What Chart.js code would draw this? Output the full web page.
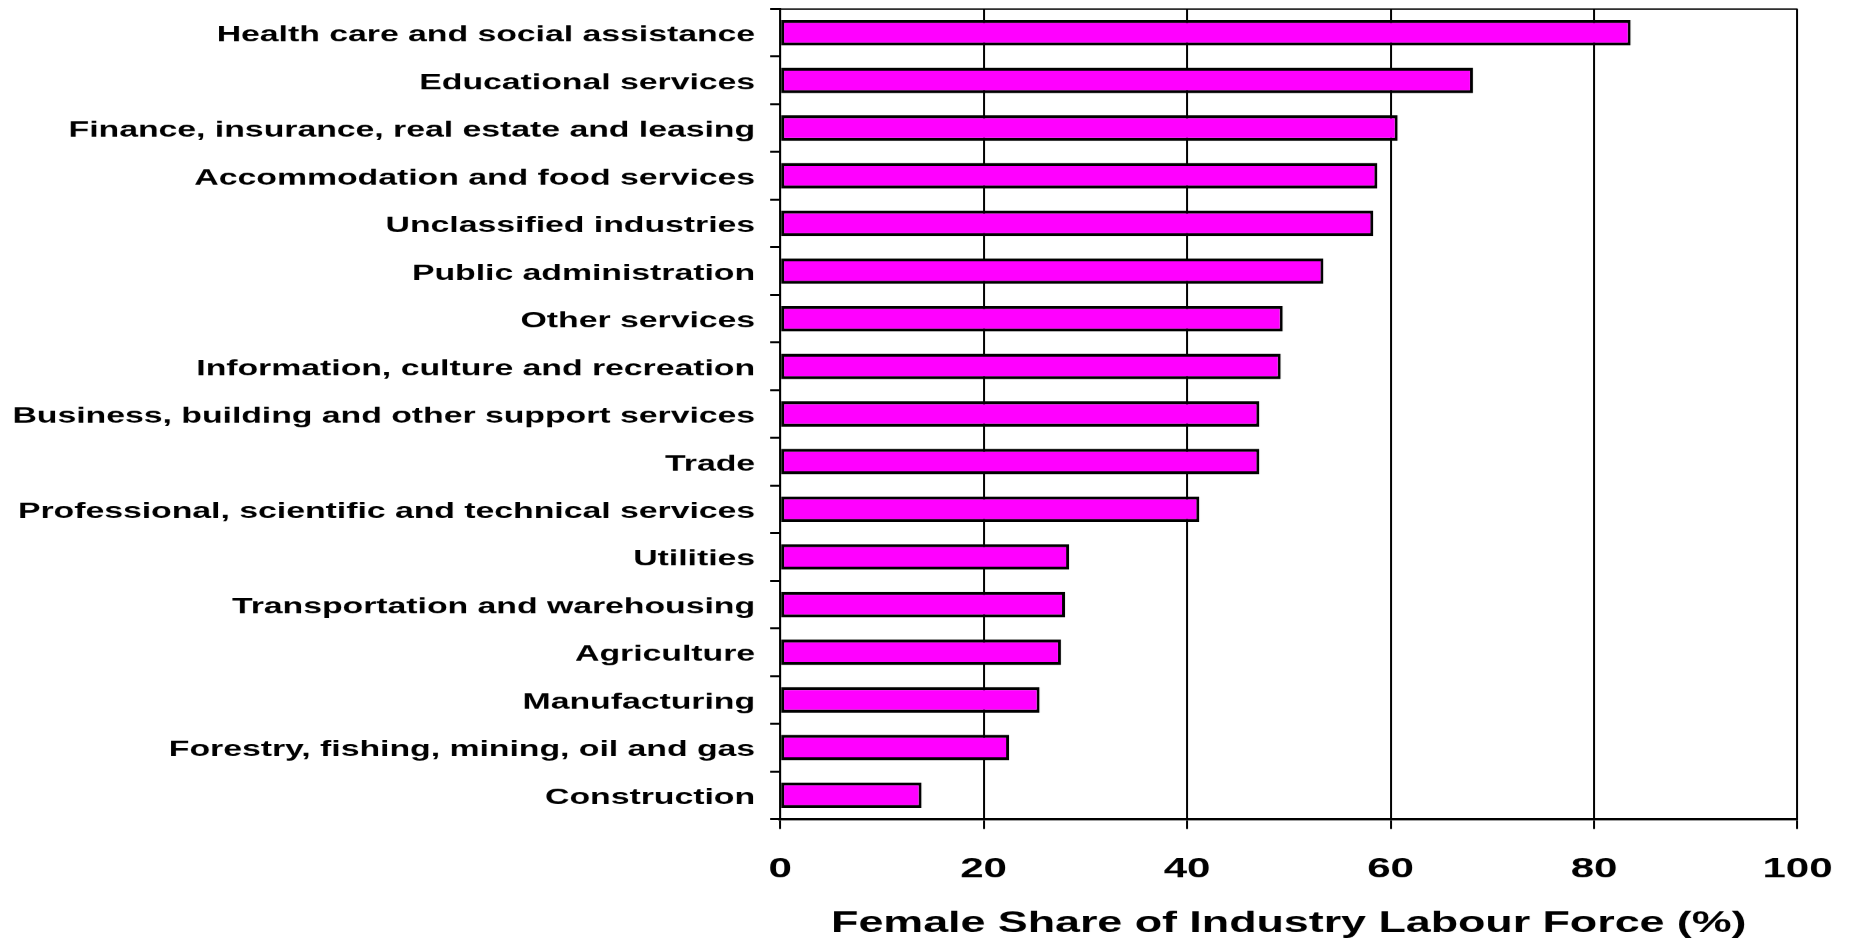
<!DOCTYPE html>
<html>
<head>
<meta charset="utf-8">
<title>Female Share of Industry Labour Force</title>
<script src="https://cdn.jsdelivr.net/npm/chart.js@4/dist/chart.umd.min.js"></script>
<style>
    html, body { margin: 0; padding: 0; background: #fff; overflow: hidden; }
    /* the source picture is stretched sideways, so the chart is drawn narrow and widened */
    #wrap { width: 1239px; height: 944px; transform: scaleX(1.4996); transform-origin: 0 0; }
</style>
</head>
<body>
<div id="wrap">
    <canvas id="sharesChart" width="1239" height="944"></canvas>
</div>
<script>
// Industries, top to bottom
const industries = [
    'Health care and social assistance',
    'Educational services',
    'Finance, insurance, real estate and leasing',
    'Accommodation and food services',
    'Unclassified industries',
    'Public administration',
    'Other services',
    'Information, culture and recreation',
    'Business, building and other support services',
    'Trade',
    'Professional, scientific and technical services',
    'Utilities',
    'Transportation and warehousing',
    'Agriculture',
    'Manufacturing',
    'Forestry, fishing, mining, oil and gas',
    'Construction'
];

// Female share (%) of each industry's labour force
const femaleShare = [83.6, 68.1, 60.7, 58.7, 58.3, 53.4, 49.4, 49.2, 47.1, 47.1, 41.2, 28.4, 28.0, 27.6, 25.5, 22.5, 13.9];

// Axis settings
const axisMin = 0;
const axisMax = 100;
const axisStep = 20;
const axisTitle = 'Female Share of Industry Labour Force (%)';

const fontFamily = '"Liberation Sans", Arial, Helvetica, sans-serif';

// Line at the top of the plot area (the right edge comes from the gridline at 100)
const plotFrame = {
    id: 'plotFrame',
    afterDraw(chart) {
        const { ctx, chartArea } = chart;
        ctx.save();
        ctx.strokeStyle = '#000';
        ctx.lineWidth = 1.5;
        ctx.beginPath();
        ctx.moveTo(chartArea.left, chartArea.top);
        ctx.lineTo(chartArea.right, chartArea.top);
        ctx.stroke();
        ctx.restore();
    }
};

const ctx = document.getElementById('sharesChart').getContext('2d');

new Chart(ctx, {
    type: 'bar',
    data: {
        labels: industries,
        datasets: [{
            data: femaleShare,
            backgroundColor: '#FF00FF',
            borderColor: '#000000',
            borderWidth: { top: 3, bottom: 3, left: 2, right: 2 },
            borderSkipped: false,
            categoryPercentage: 1.0,
            barPercentage: 0.535
        }]
    },
    options: {
        indexAxis: 'y',
        responsive: false,
        devicePixelRatio: 1.5,
        animation: false,
        layout: {
            padding: { left: 0, right: 40.7, top: 9, bottom: 0 }
        },
        plugins: {
            legend: { display: false },
            tooltip: { enabled: false }
        },
        scales: {
            x: {
                type: 'linear',
                min: axisMin,
                max: axisMax,
                ticks: {
                    stepSize: axisStep,
                    color: '#000',
                    padding: 23.5,
                    font: { family: fontFamily, size: 28, weight: 'bold' }
                },
                grid: {
                    color: '#000',
                    lineWidth: 1.33,
                    drawTicks: true,
                    tickLength: 10
                },
                border: { display: true, color: '#000', width: 2.3 },
                title: {
                    display: true,
                    text: axisTitle,
                    color: '#000',
                    padding: { top: 0, bottom: 2.5 },
                    font: { family: fontFamily, size: 29.85, weight: 'bold' }
                },
                afterFit: function(scale) {
                    scale.height = 125;
                    // keep the plot edges where the layout padding puts them
                    scale.paddingLeft = 0;
                    scale.paddingRight = 0;
                }
            },
            y: {
                ticks: {
                    color: '#000',
                    padding: 10,
                    labelOffset: 2.5,
                    autoSkip: false,
                    font: { family: fontFamily, size: 22.5, weight: 'bold' }
                },
                grid: {
                    color: '#000',
                    lineWidth: 2,
                    drawOnChartArea: false,
                    drawTicks: true,
                    tickLength: 6.7
                },
                border: { display: true, color: '#000', width: 1.4 },
                afterFit: function(scale) {
                    scale.width = 520.1;
                    scale.paddingTop = 0;
                    scale.paddingBottom = 0;
                }
            }
        }
    },
    plugins: [plotFrame]
});
</script>
</body>
</html>
